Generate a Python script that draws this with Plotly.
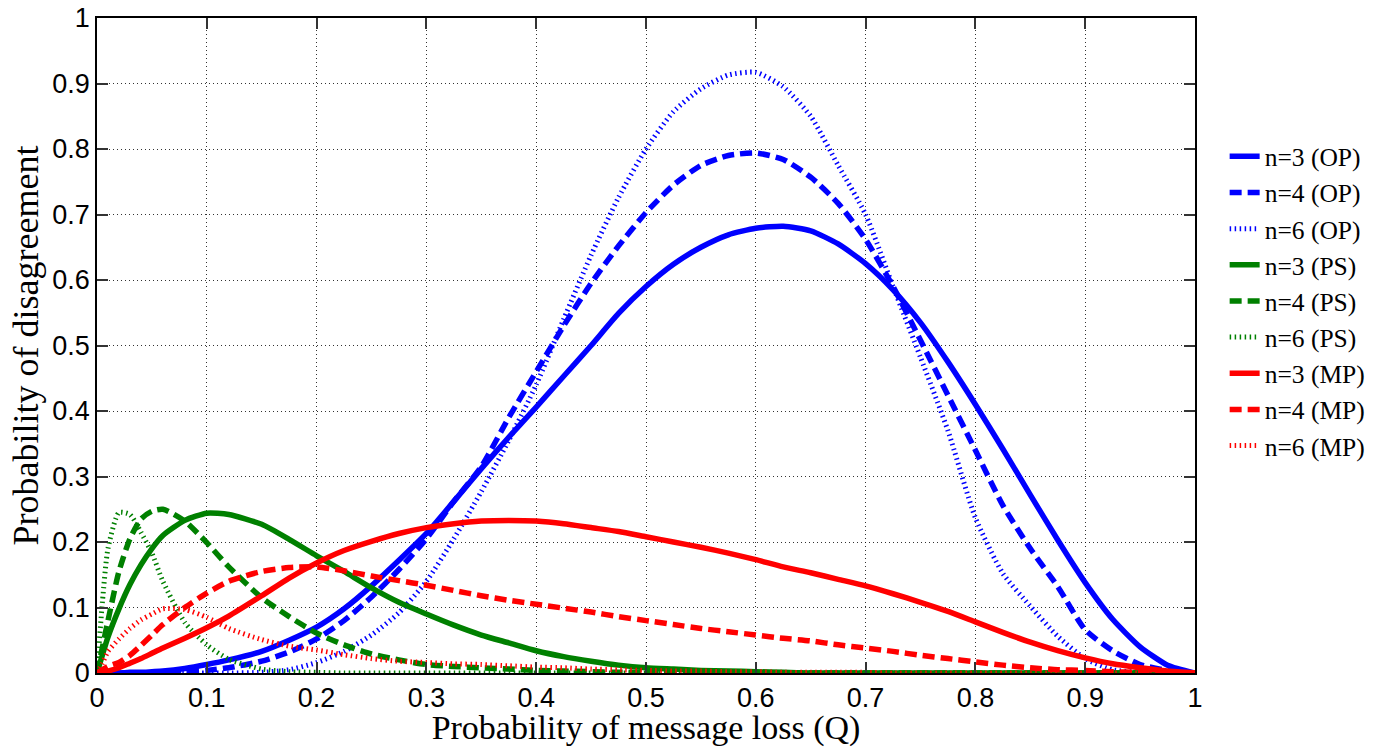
import plotly.graph_objects as go

# Probability of message loss (Q) sample points
q = [0, 0.005, 0.01, 0.02, 0.03, 0.04, 0.05, 0.06, 0.08, 0.10, 0.12, 0.15, 0.175, 0.2, 0.225,
     0.25, 0.275, 0.3, 0.325, 0.35, 0.375, 0.4, 0.425, 0.45, 0.475, 0.5, 0.525, 0.55,
     0.575, 0.6, 0.625, 0.65, 0.675, 0.7, 0.725, 0.75, 0.775, 0.8, 0.825, 0.85, 0.875,
     0.9, 0.925, 0.95, 0.975, 1.0]

op3 = [0, 0, 0, 0, 0.001, 0.001, 0.002, 0.003, 0.007, 0.013, 0.02, 0.033, 0.05, 0.07, 0.098,
       0.133, 0.172, 0.213, 0.262, 0.312, 0.36, 0.406, 0.453, 0.50, 0.549, 0.59, 0.624, 0.65,
       0.669, 0.679, 0.682, 0.675, 0.655, 0.625, 0.585, 0.535, 0.475, 0.41, 0.342, 0.272, 0.203,
       0.138, 0.082, 0.040, 0.012, 0]
op4 = [0, 0, 0, 0, 0, 0, 0, 0, 0.002, 0.004, 0.008, 0.018, 0.032, 0.052, 0.08,
       0.116, 0.158, 0.205, 0.262, 0.315, 0.39, 0.46, 0.53, 0.595, 0.652, 0.703, 0.745, 0.775,
       0.79, 0.794, 0.784, 0.757, 0.717, 0.662, 0.59, 0.508, 0.424, 0.34, 0.256, 0.19, 0.132,
       0.066, 0.034, 0.013, 0.004, 0]
op6 = [0, 0, 0, 0, 0, 0, 0, 0, 0, 0, 0, 0.001, 0.005, 0.016, 0.033,
       0.058, 0.092, 0.14, 0.205, 0.277, 0.355, 0.44, 0.54, 0.638, 0.726, 0.80, 0.857, 0.892,
       0.913, 0.917, 0.895, 0.85, 0.775, 0.70, 0.59, 0.482, 0.37, 0.237, 0.152, 0.102, 0.056,
       0.022, 0.005, 0.001, 0, 0]

ps3 = [0, 0.028, 0.055, 0.098, 0.135, 0.165, 0.19, 0.21, 0.233, 0.244, 0.242, 0.227, 0.204, 0.179, 0.155,
       0.13, 0.108, 0.09, 0.073, 0.058, 0.046, 0.034, 0.025, 0.018, 0.012, 0.008, 0.006, 0.004,
       0.003, 0.002, 0.001, 0, 0, 0, 0, 0, 0, 0, 0, 0, 0,
       0, 0, 0, 0, 0]
ps4 = [0, 0.04, 0.08, 0.155, 0.205, 0.235, 0.247, 0.25, 0.232, 0.199, 0.162, 0.115, 0.086, 0.061, 0.043,
       0.029, 0.02, 0.013, 0.01, 0.008, 0.006, 0.004, 0.003, 0.002, 0.001, 0.001, 0, 0,
       0, 0, 0, 0, 0, 0, 0, 0, 0, 0, 0, 0, 0,
       0, 0, 0, 0, 0]
ps6 = [0, 0.11, 0.19, 0.245, 0.242, 0.215, 0.183, 0.14, 0.077, 0.043, 0.021, 0.006, 0.002, 0.001, 0,
       0, 0, 0, 0, 0, 0, 0, 0, 0, 0, 0, 0, 0,
       0, 0, 0, 0, 0, 0, 0, 0, 0, 0, 0, 0, 0,
       0, 0, 0, 0, 0]

mp3 = [0, 0.001, 0.003, 0.008, 0.015, 0.022, 0.03, 0.038, 0.053, 0.069, 0.087, 0.118, 0.145, 0.168, 0.187,
       0.201, 0.213, 0.222, 0.228, 0.232, 0.233, 0.232, 0.228, 0.222, 0.216, 0.208, 0.2, 0.192,
       0.183, 0.173, 0.162, 0.153, 0.143, 0.133, 0.121, 0.108, 0.094, 0.078, 0.062, 0.047, 0.034,
       0.023, 0.014, 0.008, 0.003, 0]
mp4 = [0, 0.005, 0.01, 0.016, 0.027, 0.042, 0.058, 0.074, 0.1, 0.122, 0.14, 0.155, 0.161, 0.162, 0.156,
       0.148, 0.141, 0.134, 0.126, 0.118, 0.111, 0.105, 0.099, 0.093, 0.086, 0.08, 0.074, 0.068,
       0.063, 0.058, 0.053, 0.049, 0.043, 0.038, 0.033, 0.027, 0.022, 0.017, 0.012, 0.008, 0.005,
       0.004, 0.002, 0.001, 0, 0]
mp6 = [0, 0.015, 0.033, 0.052, 0.068, 0.081, 0.09, 0.098, 0.097, 0.085, 0.068, 0.051, 0.041, 0.035, 0.028,
       0.022, 0.018, 0.016, 0.014, 0.013, 0.011, 0.009, 0.008, 0.006, 0.005, 0.004, 0.003, 0.003,
       0.002, 0.002, 0.001, 0.001, 0.001, 0.001, 0, 0, 0, 0, 0, 0, 0,
       0, 0, 0, 0, 0]

series_names = ["n=3 (OP)", "n=4 (OP)", "n=6 (OP)",
                "n=3 (PS)", "n=4 (PS)", "n=6 (PS)",
                "n=3 (MP)", "n=4 (MP)", "n=6 (MP)"]
series_values = [op3, op4, op6, ps3, ps4, ps6, mp3, mp4, mp6]

tick_vals = [0, 0.1, 0.2, 0.3, 0.4, 0.5, 0.6, 0.7, 0.8, 0.9, 1]
tick_text = ["0", "0.1", "0.2", "0.3", "0.4", "0.5", "0.6", "0.7", "0.8", "0.9", "1"]

colors = ["#0000ff"] * 3 + ["#008000"] * 3 + ["#ff0000"] * 3
dashes = ["solid", "12px,6px", "1.5px,3.5px"] * 3
widths = [5.5, 5.5, 5] * 3

fig = go.Figure()
for name, vals, c, d, w in zip(series_names, series_values, colors, dashes, widths):
    fig.add_trace(go.Scatter(
        x=q, y=vals, mode="lines", name=name,
        line=dict(color=c, dash=d, width=w, shape="spline", smoothing=0.6),
    ))

axis_common = dict(
    range=[0, 1], tickvals=tick_vals, ticktext=tick_text, automargin=False,
    showline=True, linecolor="black", linewidth=1.5, mirror="allticks",
    ticks="inside", ticklen=11, tickwidth=1.5, tickcolor="#333333",
    showgrid=True, gridcolor="rgba(0,0,0,0.8)", gridwidth=1, griddash="1px,3px",
    zeroline=False,
    tickfont=dict(family="Liberation Sans, Arial, sans-serif", size=27, color="black"),
)

fig.update_layout(
    width=1383, height=747,
    margin=dict(l=97, r=185, t=18, b=74),
    paper_bgcolor="white", plot_bgcolor="white",
    showlegend=True,
    legend=dict(
        x=1.027, xanchor="left", y=0.824, yanchor="top",
        font=dict(family="Liberation Serif, Times New Roman, serif", size=25.5, color="black"),
        bgcolor="rgba(0,0,0,0)", borderwidth=0, tracegroupgap=0,
    ),
    xaxis=dict(axis_common, title=dict(
        text="Probability of message loss (Q)", standoff=2,
        font=dict(family="Liberation Serif, Times New Roman, serif", size=34, color="black"))),
    yaxis=dict(axis_common, title=dict(
        text="Probability of disagreement", standoff=3,
        font=dict(family="Liberation Serif, Times New Roman, serif", size=36, color="black"))),
)

# remove the default 8px page margin so the 1383x747 figure fills the window exactly
fig.write_html("out.html", config={"displayModeBar": False},
               post_script="document.body.style.margin='0';document.body.style.overflow='hidden';")
